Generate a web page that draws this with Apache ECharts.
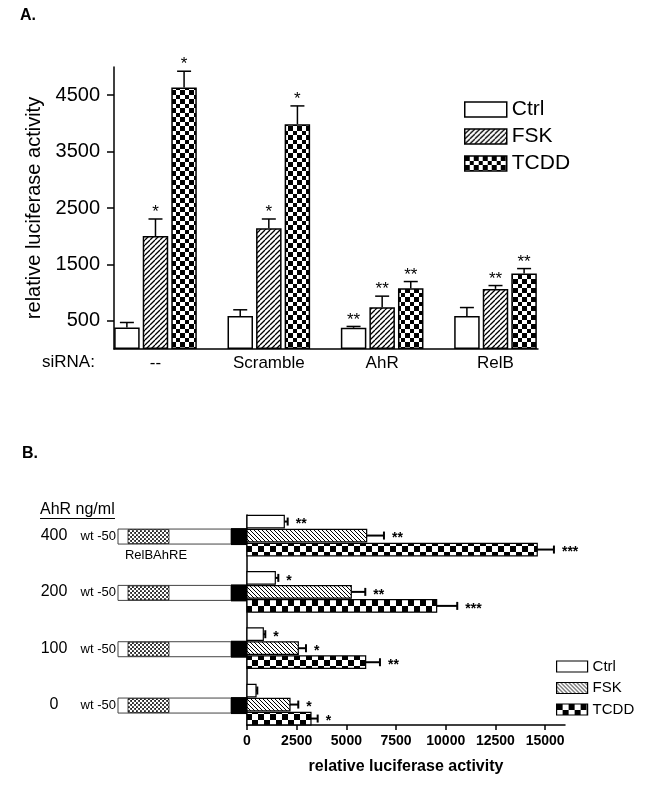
<!DOCTYPE html>
<html><head><meta charset="utf-8">
<script src="https://cdn.jsdelivr.net/npm/echarts@6/dist/echarts.min.js"></script>
<style>html,body{margin:0;padding:0;background:#fff}#c{width:645px;height:787px}</style>
</head><body><div id="c"></div>
<script>
// ---------- Panel A data ----------
const groupsA = ['--', 'Scramble', 'AhR', 'RelB'];
const ticksA = [500, 1500, 2500, 3500, 4500];
const ctrlA = [381, 583, 376, 583];
const ctrlAErr = [470, 695, 400, 735];
const ctrlAStar = ['', '', '**', ''];
const fskA = [2004, 2140, 742, 1066];
const fskAErr = [2305, 2305, 937, 1125];
const fskAStar = ['*', '*', '**', '**'];
const tcddA = [4636, 3987, 1078, 1337];
const tcddAErr = [4925, 4310, 1196, 1426];
const tcddAStar = ['*', '*', '**', '**'];

// ---------- Panel B data (index 0 = bottom row) ----------
const doseB = ['0', '100', '200', '400'];
const ticksB = [0, 2500, 5000, 7500, 10000, 12500, 15000];
const ctrlB = [453, 820, 1424, 1876];
const ctrlBErr = [518, 920, 1575, 2047];
const ctrlBStar = ['', '*', '*', '**'];
const fskB = [2163, 2580, 5246, 6021];
const fskBErr = [2580, 2967, 5951, 6891];
const fskBStar = ['*', '*', '**', '**'];
const tcddB = [3219, 5970, 9542, 14603];
const tcddBErr = [3556, 6690, 10578, 15443];
const tcddBStar = ['*', '**', '***', '***'];

const FONT = "'Liberation Sans', Arial, sans-serif";

function mk(w, h, draw) {
  const c = document.createElement('canvas');
  c.width = w; c.height = h;
  const ctx = c.getContext('2d');
  ctx.fillStyle = '#fff'; ctx.fillRect(0, 0, w, h);
  draw(ctx);
  return { image: c, repeat: 'repeat' };
}
const hatchA = mk(5, 5, ctx => {
  ctx.strokeStyle = '#000'; ctx.lineWidth = 1.3; ctx.beginPath();
  for (const k of [-5, 0, 5]) { ctx.moveTo(k, 5); ctx.lineTo(k + 5, 0); }
  ctx.stroke();
});
const hatchB = mk(4, 4, ctx => {
  ctx.strokeStyle = '#000'; ctx.lineWidth = 1; ctx.beginPath();
  for (const k of [-4, 0, 4]) { ctx.moveTo(k, 0); ctx.lineTo(k + 4, 4); }
  ctx.stroke();
});
const checkA = mk(9, 9, ctx => {
  ctx.fillStyle = '#000'; ctx.fillRect(0, 0, 5, 5); ctx.fillRect(5, 5, 4, 4);
});
const checkB = mk(12, 12, ctx => {
  ctx.fillStyle = '#000'; ctx.fillRect(0, 0, 6, 6); ctx.fillRect(6, 6, 6, 6);
});
const dots = mk(4, 4, ctx => {
  ctx.fillStyle = '#222'; ctx.fillRect(0, 0, 4, 4);
  ctx.fillStyle = '#fff';
  ctx.beginPath(); ctx.arc(1, 1, 1.3, 0, Math.PI * 2); ctx.fill();
  ctx.beginPath(); ctx.arc(3, 3, 1.3, 0, Math.PI * 2); ctx.fill();
});

const BAR_A = 25.5, STEP_A = 28.6;
function barA(name, vals, pat) {
  return {
    type: 'bar', name, xAxisIndex: 0, yAxisIndex: 0,
    data: vals.map((v, i) => [i, v]),
    barWidth: BAR_A, barGap: '12%',
    itemStyle: { color: pat, borderColor: '#000', borderWidth: 1.5 },
    z: 2
  };
}
function errA(slot, vals, errs, stars) {
  return {
    type: 'custom', xAxisIndex: 0, yAxisIndex: 0, clip: false, z: 3,
    data: vals.map((v, i) => [i, v, errs[i]]),
    renderItem(params, api) {
      const p0 = api.coord([api.value(0), api.value(1)]);
      const p1 = api.coord([api.value(0), api.value(2)]);
      const cx = p0[0] + slot * STEP_A;
      return {
        type: 'group', children: [
          { type: 'line', shape: { x1: cx, y1: p0[1], x2: cx, y2: p1[1] }, style: { stroke: '#000', lineWidth: 1.5 } },
          { type: 'line', shape: { x1: cx - 7, y1: p1[1], x2: cx + 7, y2: p1[1] }, style: { stroke: '#000', lineWidth: 1.5 } },
          { type: 'text', style: { text: stars[params.dataIndex], x: cx, y: p1[1] + 2, align: 'center', verticalAlign: 'bottom', fontSize: 17, fontFamily: FONT, fill: '#000' } }
        ]
      };
    }
  };
}
const H_B = 12.5, STEP_B = 14;
function barB(name, slot, vals, errs, stars, pat) {
  return {
    type: 'custom', name, xAxisIndex: 1, yAxisIndex: 1, clip: false, z: 3,
    itemStyle: { color: pat, borderColor: '#000' },
    data: vals.map((v, i) => [v, i, errs[i]]),
    renderItem(params, api) {
      const i = api.value(1);
      const base = api.coord([0, i]);
      const end = api.coord([api.value(0), i]);
      const ee = api.coord([api.value(2), i]);
      const yc = base[1] + slot * STEP_B;
      return {
        type: 'group', children: [
          { type: 'rect', shape: { x: base[0], y: yc - H_B / 2, width: end[0] - base[0], height: H_B }, style: { fill: pat, stroke: '#000', lineWidth: 1.2 } },
          { type: 'line', shape: { x1: end[0], y1: yc, x2: ee[0], y2: yc }, style: { stroke: '#000', lineWidth: 2 } },
          { type: 'line', shape: { x1: ee[0], y1: yc - 4, x2: ee[0], y2: yc + 4 }, style: { stroke: '#000', lineWidth: 2 } },
          { type: 'text', style: { text: stars[params.dataIndex], x: ee[0] + 8, y: yc + 3, align: 'left', verticalAlign: 'middle', fontSize: 14, fontWeight: 'bold', fontFamily: FONT, fill: '#000' } }
        ]
      };
    }
  };
}
const constructs = {
  type: 'custom', xAxisIndex: 1, yAxisIndex: 1, clip: false, z: 1, silent: true,
  data: doseB.map((d, i) => [0, i]),
  renderItem(params, api) {
    const p = api.coord([0, api.value(1)]);
    const ax = p[0], yc = p[1] + 1;
    const ch = [
      { type: 'text', style: { text: 'wt -50', x: ax - 131, y: yc, align: 'right', verticalAlign: 'middle', fontSize: 13, fontFamily: FONT, fill: '#000' } },
      { type: 'rect', shape: { x: ax - 129, y: yc - 7.5, width: 113, height: 15 }, style: { fill: '#fff', stroke: '#444', lineWidth: 1 } },
      { type: 'rect', shape: { x: ax - 119, y: yc - 7, width: 41, height: 14 }, style: { fill: dots, stroke: '#222', lineWidth: 0.8 } },
      { type: 'rect', shape: { x: ax - 16, y: yc - 8.5, width: 16, height: 17 }, style: { fill: '#000' } }
    ];
    if (params.dataIndex === doseB.length - 1) {
      ch.push({ type: 'text', style: { text: 'RelBAhRE', x: ax - 91, y: yc + 19, align: 'center', verticalAlign: 'middle', fontSize: 13, fontFamily: FONT, fill: '#000' } });
    }
    return { type: 'group', children: ch };
  }
};

const axisLineStyle = { show: true, onZero: false, lineStyle: { color: '#000', width: 1.5 } };
const chart = echarts.init(document.getElementById('c'), null, { renderer: 'canvas' });
chart.setOption({
  animation: false,
  backgroundColor: '#fff',
  textStyle: { fontFamily: FONT, color: '#000' },
  grid: [
    { left: 114, top: 67, width: 424, height: 282 },
    { left: 247, top: 515, width: 318, height: 210 }
  ],
  xAxis: [
    { gridIndex: 0, type: 'value', min: -0.366, max: 3.375, axisLine: axisLineStyle, axisTick: { show: false }, splitLine: { show: false },
      axisLabel: { customValues: [0, 1, 2, 3], formatter: v => groupsA[Math.round(v)], fontSize: 17, color: '#000', margin: 6, fontFamily: FONT } },
    { gridIndex: 1, type: 'value', min: 0, max: 16000, axisLine: axisLineStyle, splitLine: { show: false },
      axisTick: { show: true, customValues: ticksB, length: 5, lineStyle: { color: '#000', width: 1.5 } },
      axisLabel: { customValues: ticksB, formatter: v => String(v), fontSize: 14, fontWeight: 'bold', color: '#000', margin: 9, fontFamily: FONT },
      name: 'relative luciferase activity', nameLocation: 'middle', nameGap: 34,
      nameTextStyle: { fontSize: 16, fontWeight: 'bold', color: '#000', fontFamily: FONT } }
  ],
  yAxis: [
    { gridIndex: 0, type: 'value', min: 0, max: 5000, axisLine: axisLineStyle, splitLine: { show: false },
      axisTick: { show: true, customValues: ticksA, length: 7, lineStyle: { color: '#000', width: 1.5 } },
      axisLabel: { customValues: ticksA, formatter: v => String(v), fontSize: 20, color: '#000', margin: 14, fontFamily: FONT },
      name: 'relative luciferase activity', nameLocation: 'middle', nameGap: 58,
      nameTextStyle: { fontSize: 20, color: '#000', fontFamily: FONT } },
    { gridIndex: 1, type: 'value', min: -0.363, max: 3.365, axisLine: axisLineStyle, axisTick: { show: false }, splitLine: { show: false },
      axisLabel: { customValues: [0, 1, 2, 3], formatter: v => doseB[Math.round(v)], fontSize: 16, color: '#000', margin: 193, align: 'center', fontFamily: FONT } }
  ],
  legend: [
    { orient: 'vertical', left: 459, top: 94, icon: 'rect', itemWidth: 42, itemHeight: 15, itemGap: 6, selectedMode: false,
      textStyle: { fontSize: 21, color: '#000', fontFamily: FONT },
      data: [
        { name: 'Ctrl', itemStyle: { color: '#fff', borderColor: '#000', borderWidth: 1.5 } },
        { name: 'FSK', itemStyle: { color: hatchA, borderColor: '#000', borderWidth: 1.5 } },
        { name: 'TCDD', itemStyle: { color: checkA, borderColor: '#000', borderWidth: 1.5 } }
      ] },
    { orient: 'vertical', left: 551, top: 654, icon: 'rect', itemWidth: 31, itemHeight: 11, itemGap: 6.5, selectedMode: false,
      textStyle: { fontSize: 15, color: '#000', fontFamily: FONT },
      data: [
        { name: 'Ctrl', itemStyle: { color: '#fff', borderColor: '#000', borderWidth: 1.2 } },
        { name: 'FSK', itemStyle: { color: hatchB, borderColor: '#000', borderWidth: 1.2 } },
        { name: 'TCDD', itemStyle: { color: checkB, borderColor: '#000', borderWidth: 1.2 } }
      ] }
  ],
  graphic: [
    { type: 'text', left: 20, top: 8, style: { text: 'A.', fontSize: 16, fontWeight: 'bold', fontFamily: FONT, fill: '#000' } },
    { type: 'text', left: 22, top: 446, style: { text: 'B.', fontSize: 16, fontWeight: 'bold', fontFamily: FONT, fill: '#000' } },
    { type: 'text', x: 42, y: 362, style: { text: 'siRNA:', fontSize: 17, fontFamily: FONT, fill: '#000', verticalAlign: 'middle' } },
    { type: 'text', x: 40, y: 510, style: { text: 'AhR ng/ml', fontSize: 16, fontFamily: FONT, fill: '#000', verticalAlign: 'middle' } },
    { type: 'line', shape: { x1: 40, y1: 518.5, x2: 115, y2: 518.5 }, style: { stroke: '#000', lineWidth: 1 } }
  ],
  series: [
    barA('Ctrl', ctrlA, '#fff'),
    barA('FSK', fskA, hatchA),
    barA('TCDD', tcddA, checkA),
    errA(-1, ctrlA, ctrlAErr, ctrlAStar),
    errA(0, fskA, fskAErr, fskAStar),
    errA(1, tcddA, tcddAErr, tcddAStar),
    constructs,
    barB('Ctrl', -1, ctrlB, ctrlBErr, ctrlBStar, '#fff'),
    barB('FSK', 0, fskB, fskBErr, fskBStar, hatchB),
    barB('TCDD', 1, tcddB, tcddBErr, tcddBStar, checkB)
  ]
});
</script>
</body></html>
